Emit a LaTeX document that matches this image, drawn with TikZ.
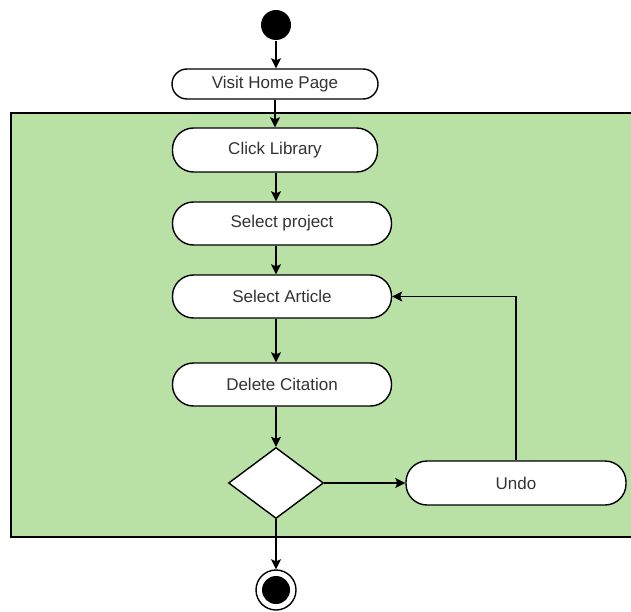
\documentclass[tikz,border=0pt]{standalone}
\usepackage{fontspec}
\setmainfont{Liberation Sans}
\usepackage{tikz}
\usetikzlibrary{shapes.geometric}
\usetikzlibrary{arrows.meta}

\definecolor{swimgreen}{HTML}{B9E0A5}
\definecolor{labelgray}{HTML}{333333}

\begin{document}
\begin{tikzpicture}[x=1pt,y=-1pt,line width=1.4pt,
  act/.style={draw,fill=white,rounded corners=21pt,minimum height=43pt,inner sep=0pt,
    text=labelgray,font=\fontsize{17}{20}\selectfont},
  flow/.style={-{Stealth[length=10pt,width=10pt,inset=2pt]}}]
\useasboundingbox (0,0) rectangle (631,612);
\filldraw[fill=swimgreen] (11,113) rectangle (650,537);
\node[circle,fill=black,minimum size=30pt,inner sep=0pt] (start) at (276,25) {};
\node[act,rounded corners=15pt,minimum height=30pt,minimum width=206pt] (visit) at (275,84) {Visit Home Page};
\node[act,minimum height=44pt,minimum width=205pt] (click) at (275,150) {Click Library};
\node[act,minimum width=219pt] (project) at (282,223.5) {Select project};
\node[act,minimum width=219pt] (article) at (282,296.5) {Select Article};
\node[act,minimum width=219pt] (delete) at (282,384.5) {Delete Citation};
\node[diamond,draw,fill=white,minimum width=95pt,minimum height=71pt,inner sep=0pt] (choice) at (276,483) {};
\node[act,minimum height=44pt,minimum width=220pt] (undo) at (516,483) {Undo};
\node[circle,draw,fill=white,minimum size=40pt,inner sep=0pt] (stop) at (276,590) {};
\fill (stop) circle (14pt);
\draw[flow] (start) -- (start |- visit.north);
\draw[flow] (visit) -- (visit.south |- click.north);
\draw[flow] (click.south -| start) -- (start |- project.north);
\draw[flow] (project.south -| start) -- (start |- article.north);
\draw[flow] (article.south -| start) -- (start |- delete.north);
\draw[flow] (delete.south -| start) -- (choice.north);
\draw[flow] (choice.east) -- (undo.west);
\draw[flow] (undo.north) -- (undo.north |- article.east) -- (article.east);
\draw[flow] (choice.south) -- (stop.north);
\end{tikzpicture}
\end{document}
